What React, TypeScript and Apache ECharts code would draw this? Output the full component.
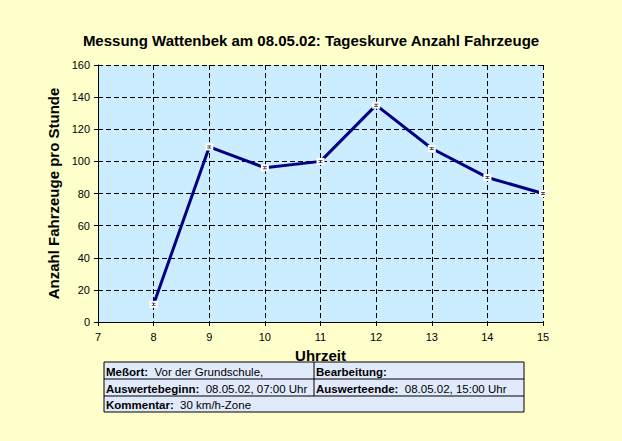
import React, { useEffect, useRef } from "react";
import * as echarts from "echarts";

const hours = [8, 9, 10, 11, 12, 13, 14, 15];
const vehicles = [11, 109, 96, 100, 135, 108, 90, 80];
const yTicks = [0, 20, 40, 60, 80, 100, 120, 140, 160];
const titleText = "Messung Wattenbek am 08.05.02: Tageskurve Anzahl Fahrzeuge";
const xName = "Uhrzeit";
const yName = "Anzahl Fahrzeuge pro Stunde";
const tableRow1 = [["Meßort:", "Vor der Grundschule,"], ["Bearbeitung:", ""]];
const tableRow2 = [["Auswertebeginn:", "08.05.02, 07:00 Uhr"], ["Auswerteende:", "08.05.02, 15:00 Uhr"]];
const tableRow3 = [["Kommentar:", "30 km/h-Zone"]];

const FONT = "'Liberation Sans', Arial, sans-serif";

export default function App() {
  const ref = useRef<HTMLDivElement>(null);
  useEffect(() => {
    if (!ref.current) return;
    const chart = echarts.init(ref.current, undefined, { renderer: "svg" });
    const pts = hours.map((h, i) => [h, vehicles[i]]);
    const cell = (x: number, y: number, pair: string[]) => ({
      type: "text",
      x,
      y,
      style: {
        text: `{b|${pair[0]}}  ${pair[1]}`,
        fontFamily: FONT,
        fontSize: 11.5,
        fill: "#000",
        verticalAlign: "middle",
        rich: { b: { fontWeight: "bold", fontSize: 11.5, fontFamily: FONT, fill: "#000" } },
      },
    });
    const tableLeft = 104, tableRight = 524, tTop = 362, r1 = 379, r2 = 396, tBot = 412, mid = 314;
    chart.setOption({
      animation: false,
      backgroundColor: "#FFFFCC",
      title: {
        text: titleText,
        left: "center",
        top: 28,
        textStyle: { fontFamily: FONT, fontSize: 15, fontWeight: "bold", color: "#000" },
      },
      grid: { left: 98, top: 65, width: 445, height: 257, containLabel: false, show: true, backgroundColor: "#CCECFF", borderWidth: 0 },
      xAxis: {
        type: "value",
        min: 7,
        max: 15,
        interval: 1,
        name: xName,
        nameLocation: "middle",
        nameGap: 26,
        nameTextStyle: { fontFamily: FONT, fontSize: 15, fontWeight: "bold", color: "#000" },
        axisLine: { show: true, onZero: false, lineStyle: { color: "#000", width: 1 } },
        axisTick: { show: true, inside: false, length: 4, lineStyle: { color: "#000" } },
        axisLabel: { fontFamily: FONT, fontSize: 11, color: "#000", margin: 9 },
        splitLine: { show: true, lineStyle: { color: "#000", type: [5, 3], width: 1 } },
      },
      yAxis: {
        type: "value",
        min: yTicks[0],
        max: yTicks[yTicks.length - 1],
        interval: yTicks[1] - yTicks[0],
        name: yName,
        nameLocation: "middle",
        nameGap: 32,
        nameTextStyle: { fontFamily: FONT, fontSize: 15, fontWeight: "bold", color: "#000" },
        axisLine: { show: true, lineStyle: { color: "#000", width: 1 } },
        axisTick: { show: true, inside: false, length: 4, lineStyle: { color: "#000" } },
        axisLabel: { fontFamily: FONT, fontSize: 11, color: "#000", margin: 8 },
        splitLine: { show: true, lineStyle: { color: "#000", type: [5, 3], width: 1 } },
      },
      series: [
        {
          type: "line",
          data: pts,
          lineStyle: { color: "#000080", width: 3 },
          itemStyle: { color: "#FFFFFF", borderWidth: 0 },
          symbol: "rect",
          symbolSize: [8, 7],
          showSymbol: true,
          z: 3,
        },
        {
          type: "scatter",
          data: pts,
          symbol: "path://M0,0H4V1H0Z M1.5,1H2.5V3H1.5Z M0,3H4V4H0Z",
          symbolSize: [4, 3],
          itemStyle: { color: "#000" },
          z: 4,
        },
      ],
      graphic: [
        {
          type: "rect",
          shape: { x: tableLeft, y: tTop, width: tableRight - tableLeft, height: tBot - tTop },
          style: { fill: "#E0EAFB", stroke: "#000", lineWidth: 1 },
        },
        { type: "line", shape: { x1: tableLeft, y1: r1, x2: tableRight, y2: r1 }, style: { stroke: "#000", lineWidth: 1 } },
        { type: "line", shape: { x1: tableLeft, y1: r2, x2: tableRight, y2: r2 }, style: { stroke: "#000", lineWidth: 1 } },
        { type: "line", shape: { x1: mid, y1: tTop, x2: mid, y2: r2 }, style: { stroke: "#000", lineWidth: 1 } },
        cell(106, (tTop + r1) / 2 + 1, tableRow1[0]),
        cell(316, (tTop + r1) / 2 + 1, tableRow1[1]),
        cell(106, (r1 + r2) / 2 + 1, tableRow2[0]),
        cell(316, (r1 + r2) / 2 + 1, tableRow2[1]),
        cell(106, (r2 + tBot) / 2 + 1, tableRow3[0]),
      ],
    });
    return () => chart.dispose();
  }, []);
  return <div ref={ref} style={{ width: 622, height: 441, position: "absolute", left: 0, top: 0 }} />;
}
